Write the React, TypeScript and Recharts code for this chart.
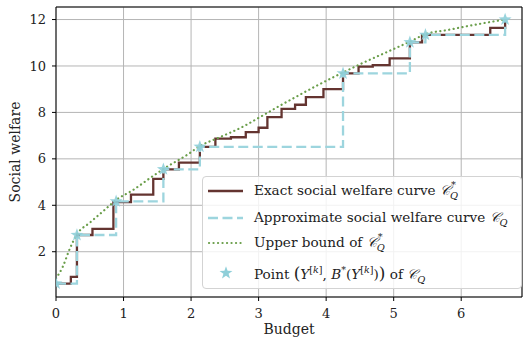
import { ComposedChart, Line, Scatter, XAxis, YAxis, CartesianGrid, Legend, ReferenceLine } from 'recharts';

// x ticks / y ticks
const budgetTicks = [0, 1, 2, 3, 4, 5, 6];
const welfareTicks = [2, 4, 6, 8, 10, 12];

// exact curve C*_Q (step starts)
const exactBudget = [0, 0.22, 0.31, 0.54, 0.85, 1.11, 1.44, 1.59, 1.82, 2.13, 2.36, 2.59, 2.81, 3.0, 3.13, 3.34, 3.54, 3.7, 3.96, 4.25, 4.48, 4.69, 4.94, 5.24, 5.42, 6.43, 6.65];
const exactWelfare = [0.63, 0.92, 2.72, 2.98, 4.14, 4.46, 5.14, 5.55, 5.84, 6.52, 6.87, 6.93, 7.15, 7.34, 7.8, 8.15, 8.33, 8.66, 9.0, 9.68, 9.97, 10.04, 10.33, 11.02, 11.34, 11.64, 12.0];

// approximate curve C_Q, also the starred points
const approxBudget = [0, 0.31, 0.89, 1.59, 2.13, 4.25, 5.24, 5.47, 6.65];
const approxWelfare = [0.63, 2.72, 4.17, 5.55, 6.52, 9.68, 11.02, 11.34, 12.0];

// upper bound of C*_Q
const upperBudget = [0, 0.1, 0.2, 0.31, 0.5, 0.7, 0.9, 1.13, 1.44, 1.62, 1.94, 2.13, 2.4, 2.77, 3.02, 3.29, 3.54, 3.88, 4.25, 4.55, 4.9, 5.24, 5.47, 5.8, 6.17, 6.65];
const upperWelfare = [0.85, 1.35, 2.1, 2.75, 3.25, 3.75, 4.25, 4.64, 5.27, 5.62, 6.17, 6.55, 6.9, 7.39, 7.8, 8.25, 8.65, 9.18, 9.72, 10.14, 10.6, 11.05, 11.37, 11.55, 11.76, 12.0];

const toPoints = (xs: number[], ys: number[]) => xs.map((x, i) => ({ x, y: ys[i] }));
const exactData = toPoints(exactBudget, exactWelfare);
const approxData = toPoints(approxBudget, approxWelfare);
const upperData = toPoints(upperBudget, upperWelfare);

const BROWN = '#643430';
const CYAN = '#9dd5de';
const GREEN = '#6a9e4a';
const STAR = '#8fcfd9';
const FONT = '"DejaVu Serif", serif';

const X_MAX = 6.9;
const Y_MIN = 0.05;
const Y_MAX = 12.54;

const starPath = (cx: number, cy: number, r: number) => {
  const pts: string[] = [];
  for (let i = 0; i < 10; i++) {
    const rr = i % 2 === 0 ? r : r * 0.4;
    const a = -Math.PI / 2 + (i * Math.PI) / 5;
    pts.push(`${cx + rr * Math.cos(a)},${cy + rr * Math.sin(a)}`);
  }
  return pts.join(' ');
};

const StarShape = (props: any) => {
  const { cx, cy } = props;
  if (cx == null || cy == null) return null;
  return <polygon points={starPath(cx, cy, 6.8)} fill={STAR} fillOpacity={0.9} />;
};

// calligraphic C with stacked sup/sub
const CQ = ({ star }: { star?: boolean }) => (
  <span style={{ whiteSpace: 'nowrap' }}>
    <span style={{ fontStyle: 'italic' }}>𝒞</span>
    <span style={{ display: 'inline-block', position: 'relative', width: '0.55em', height: '1em', verticalAlign: 'baseline', fontSize: '0.72em', fontStyle: 'italic' }}>
      {star && <span style={{ position: 'absolute', left: 1, top: '-0.55em', lineHeight: 1 }}>*</span>}
      <span style={{ position: 'absolute', left: 0, top: '0.55em', lineHeight: 1 }}>Q</span>
    </span>
  </span>
);

const Yk = () => (
  <span>
    <i>Y</i>
    <sup style={{ fontSize: '0.7em' }}>[<i>k</i>]</sup>
  </span>
);

const renderLegend = () => {
  const rows = [
    { top: 5, handle: <line x1={5} x2={40} y1={7} y2={7} stroke={BROWN} strokeWidth={2.3} />, text: <>Exact social welfare curve <CQ star /></> },
    { top: 32, handle: <line x1={5} x2={40} y1={7} y2={7} stroke={CYAN} strokeWidth={2.3} strokeDasharray="10 4.5" />, text: <>Approximate social welfare curve <CQ /></> },
    { top: 57, handle: <line x1={6} x2={40} y1={7} y2={7} stroke={GREEN} strokeWidth={2.2} strokeDasharray="0.1 4.4" strokeLinecap="round" />, text: <>Upper bound of <CQ star /></> },
    { top: 86, handle: <polygon points={starPath(23, 7, 6.8)} fill={STAR} />, text: <>Point <span style={{ fontSize: '1.25em' }}>(</span><Yk />, <i>B</i><sup style={{ fontSize: '0.7em' }}>*</sup>(<Yk />)<span style={{ fontSize: '1.25em' }}>)</span> of <CQ /></> },
  ];
  return (
    <div style={{ position: 'relative', width: 320, height: 113, boxSizing: 'border-box', border: '1px solid #d3d3d3', borderRadius: 4, background: 'rgba(255,255,255,0.82)', fontFamily: FONT, fontSize: 13.6, color: '#222' }}>
      {rows.map((r, i) => (
        <div key={i} style={{ position: 'absolute', left: 0, top: r.top, display: 'flex', alignItems: 'center', whiteSpace: 'nowrap' }}>
          <svg width={46} height={14} style={{ flex: 'none' }}>{r.handle}</svg>
          <span style={{ marginLeft: 5 }}>{r.text}</span>
        </div>
      ))}
    </div>
  );
};

export default function App() {
  return (
    <div style={{ position: 'absolute', left: 0, top: 0, width: 523, height: 338, background: '#fff' }}>
      <ComposedChart width={523} height={338} margin={{ top: 7, right: 1, bottom: 0, left: 0 }}>
        <CartesianGrid stroke="#b5b5b5" strokeWidth={1} />
        <XAxis
          type="number"
          dataKey="x"
          domain={[0, X_MAX]}
          ticks={budgetTicks}
          allowDataOverflow
          height={41}
          tickSize={4}
          tickMargin={8}
          stroke="#000"
          tick={{ fill: '#222', fontSize: 13, fontFamily: FONT }}
          label={{
            content: (p: any) => (
              <text x={p.viewBox.x + p.viewBox.width / 2} y={334} textAnchor="middle" fontFamily={FONT} fontSize={14} fill="#222">Budget</text>
            ),
          }}
        />
        <YAxis
          type="number"
          dataKey="y"
          domain={[Y_MIN, Y_MAX]}
          ticks={welfareTicks}
          allowDataOverflow
          width={56}
          tickSize={4}
          tickMargin={6}
          stroke="#000"
          tick={{ fill: '#222', fontSize: 13, fontFamily: FONT }}
          label={{
            content: (p: any) => {
              const cy = p.viewBox.y + p.viewBox.height / 2;
              return (
                <text x={20} y={cy} transform={`rotate(-90, 20, ${cy})`} textAnchor="middle" fontFamily={FONT} fontSize={14} fill="#222">Social welfare</text>
              );
            },
          }}
        />
        <ReferenceLine y={Y_MAX} stroke="#000" strokeWidth={1} ifOverflow="extendDomain" />
        <ReferenceLine x={X_MAX} stroke="#000" strokeWidth={1} ifOverflow="extendDomain" />
        <Line data={exactData} dataKey="y" type="stepAfter" stroke={BROWN} strokeWidth={2.3} dot={false} activeDot={false} isAnimationActive={false} />
        <Line data={approxData} dataKey="y" type="stepAfter" stroke={CYAN} strokeWidth={2.3} strokeDasharray="10 4.5" dot={false} activeDot={false} isAnimationActive={false} />
        <Line data={upperData} dataKey="y" type="monotone" stroke={GREEN} strokeWidth={2.2} strokeDasharray="0.1 4.4" strokeLinecap="round" dot={false} activeDot={false} isAnimationActive={false} />
        <Scatter data={approxData} dataKey="y" shape={<StarShape />} isAnimationActive={false} />
        <Legend
          layout="vertical"
          align="center"
          verticalAlign="middle"
          content={renderLegend}
          wrapperStyle={{ position: 'absolute', left: 202, top: 176, width: 320, height: 113 }}
        />
      </ComposedChart>
    </div>
  );
}
